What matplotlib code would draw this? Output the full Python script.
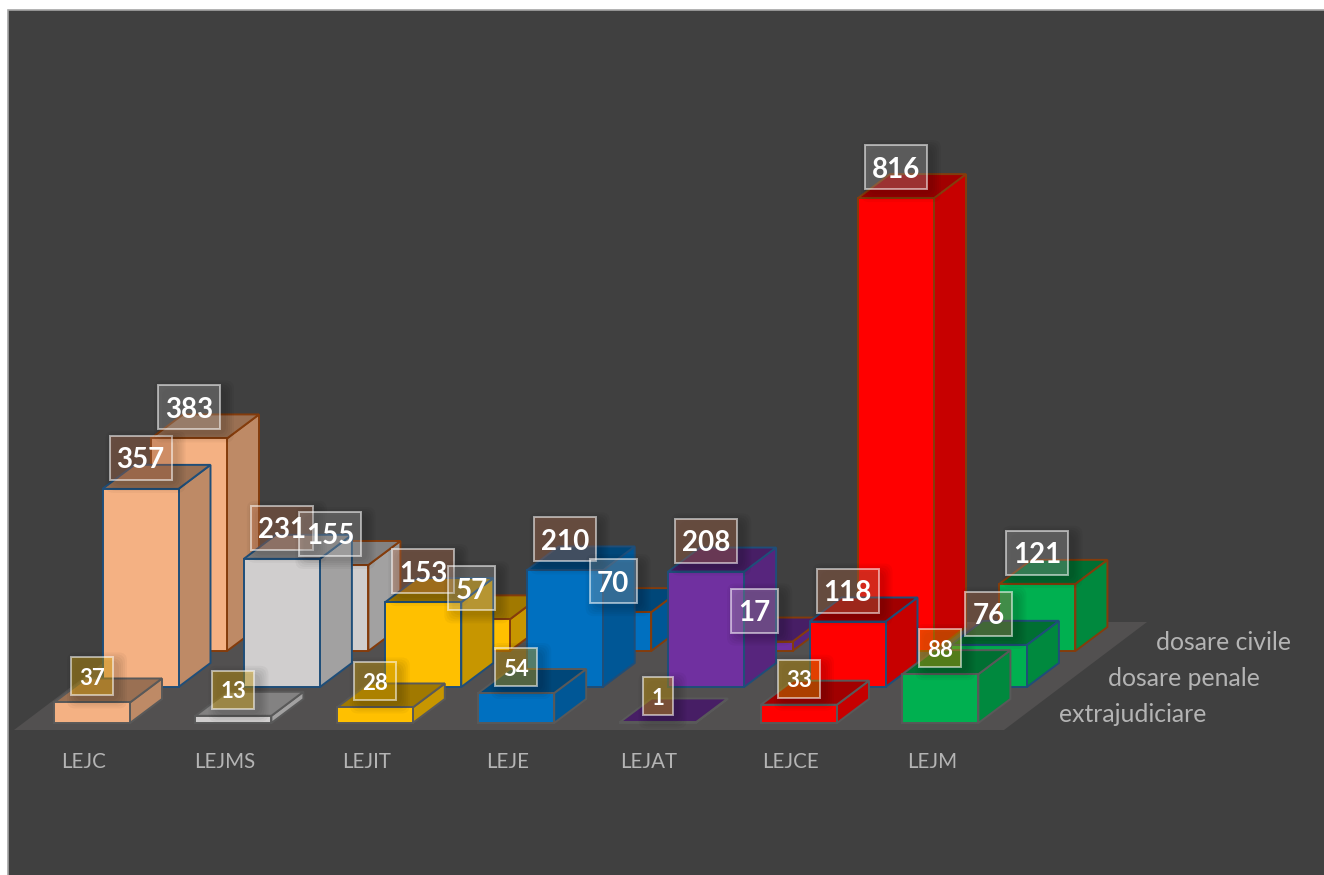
"""Oblique 3D-look bar chart of case counts per unit, three rows deep."""
import matplotlib
matplotlib.use("Agg")
import matplotlib.pyplot as plt
from matplotlib.colors import to_rgb
from matplotlib.patches import FancyBboxPatch, Rectangle

plt.rcParams["font.family"] = ["Lato", "DejaVu Sans"]

categories = ["LEJC", "LEJMS", "LEJIT", "LEJE", "LEJAT", "LEJCE", "LEJM"]
series_names = ["extrajudiciare", "dosare penale", "dosare civile"]
extrajudiciare = [37, 13, 28, 54, 1, 33, 88]
dosare_penale = [357, 231, 153, 210, 208, 118, 76]
dosare_civile = [383, 155, 57, 70, 17, 816, 121]
bar_colors = ["#F4B183", "#D0CECE", "#FFC000", "#0070C0", "#7030A0", "#FF0000", "#00B050"]

W, H = 1324, 875
X0, PITCH, BAR_W = 54, 141.4, 76
BASE_Y, PX_PER_UNIT = 723, 0.555
ROW_DX, ROW_DY = 48.5, -36
DEPTH_DX, DEPTH_DY = 32, -24

edge_colors = ["#595959", "#1F4E79", "#843C0C"]
label_fills = [("#FFC000", 0.33), ("#D9835A", 0.30), ("#FFFFFF", 0.20)]
label_fonts = [16, 20, 20]
TEXT_GREY = "#B4B4B4"


def shade(color, factor):
    return tuple(c * factor for c in to_rgb(color))


def draw_bar(ax, x, base, h, color, edge):
    top = base - h
    dx, dy = DEPTH_DX, DEPTH_DY
    kw = dict(edgecolor=edge, linewidth=1.4, joinstyle="miter")
    ax.fill([x + BAR_W, x + BAR_W + dx, x + BAR_W + dx, x + BAR_W],
            [base, base + dy, top + dy, top], facecolor=shade(color, 0.78), **kw)
    ax.fill([x, x + dx, x + BAR_W + dx, x + BAR_W],
            [top, top + dy, top + dy, top], facecolor=shade(color, 0.63), **kw)
    ax.fill([x, x + BAR_W, x + BAR_W, x],
            [base, base, top, top], facecolor=color, **kw)


def draw_label(ax, cx, cy, value, row):
    size = label_fonts[row]
    n = len(str(value))
    if row == 0:
        bw, bh = (30 if n == 1 else 42), 38
    else:
        bw, bh = (47 if n == 2 else 62), 44
    # soft shadow behind the box
    for grow in range(2, 22, 4):
        ax.add_patch(FancyBboxPatch((cx - bw / 2 + 5 - grow / 2, cy - bh / 2 + 4 - grow / 2),
                                    bw + grow, bh + grow, boxstyle="round,pad=0,rounding_size=8",
                                    facecolor="black", alpha=0.035, edgecolor="none"))
    fill, alpha = label_fills[row]
    ax.add_patch(Rectangle((cx - bw / 2, cy - bh / 2), bw, bh, facecolor=fill, alpha=alpha, edgecolor="none"))
    ax.add_patch(Rectangle((cx - bw / 2, cy - bh / 2), bw, bh, facecolor="none",
                           edgecolor=(1, 1, 1, 0.55), linewidth=1.4))
    ax.text(cx, cy, str(value), color="white", fontsize=size, fontweight="bold",
            ha="center", va="center_baseline")


fig = plt.figure(figsize=(W / 100, H / 100), dpi=100, facecolor="white")
ax = fig.add_axes([0, 0, 1, 1])
ax.set_xlim(0, W)
ax.set_ylim(H, 0)
ax.axis("off")

# chart area and floor
ax.add_patch(Rectangle((8, 10), W, H, facecolor="#404040", edgecolor="#A6A6A6", linewidth=1.2))
floor_y = BASE_Y + 7
floor_back = BASE_Y - 101
ax.fill([14, 1004, 1147, 157], [floor_y, floor_y, floor_back, floor_back], facecolor="#525050", edgecolor="none")

rows = [extrajudiciare, dosare_penale, dosare_civile]

# back row first so nearer bars cover it
for row in (2, 1, 0):
    for i, value in enumerate(rows[row]):
        x = X0 + PITCH * i + ROW_DX * row
        base = BASE_Y + ROW_DY * row
        draw_bar(ax, x, base, value * PX_PER_UNIT, bar_colors[i], edge_colors[row])

for row in (0, 1, 2):
    for i, value in enumerate(rows[row]):
        x = X0 + PITCH * i + ROW_DX * row
        base = BASE_Y + ROW_DY * row
        offset = 26 if row == 0 else 31
        draw_label(ax, x + BAR_W / 2, base - value * PX_PER_UNIT - offset, value, row)

for i, name in enumerate(categories):
    ax.text(X0 + PITCH * i + 29.5, 762, name, color=TEXT_GREY, fontsize=14.8, ha="center", va="center")

for row, name in enumerate(series_names):
    ax.text(1059 + ROW_DX * row, 714 + ROW_DY * row, name, color=TEXT_GREY, fontsize=17.8, ha="left", va="center")

fig.savefig("out.png", dpi=100, facecolor=fig.get_facecolor())
plt.close(fig)
